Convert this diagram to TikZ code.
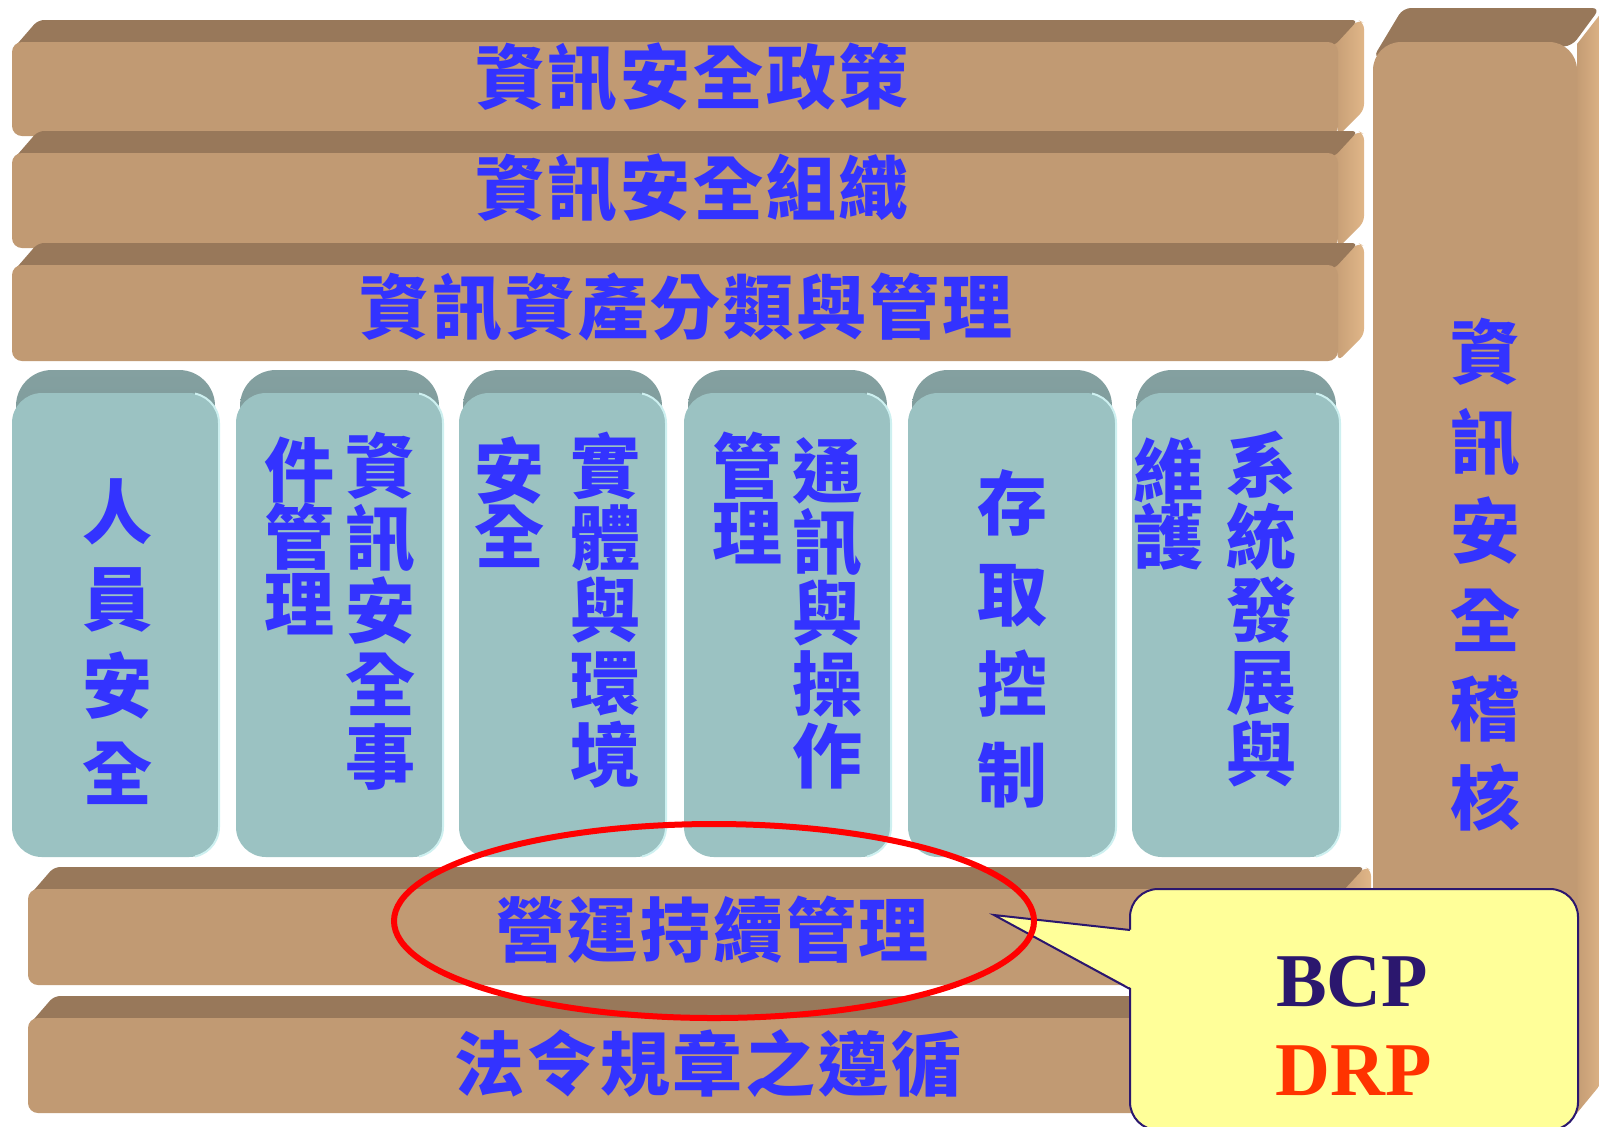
\documentclass[tikz,border=0pt]{standalone}
\usepackage{fontspec}
\newfontfamily\cjk{Noto Sans CJK TC}
\newfontfamily\cjkh[LetterSpace=4]{Noto Sans CJK TC}
\newfontfamily\tnr{Liberation Serif}
\definecolor{barfront}{RGB}{193,154,115}
\definecolor{bartop}{RGB}{152,120,90}
\definecolor{barside}{RGB}{224,182,136}
\definecolor{barsideA}{RGB}{196,156,116}
\definecolor{pilfront}{RGB}{155,194,194}
\definecolor{piltop}{RGB}{118,148,148}
\definecolor{piltopA}{RGB}{132,160,160}
\definecolor{pilhi}{RGB}{205,240,240}
\definecolor{txtblue}{RGB}{51,51,255}
\definecolor{callfill}{RGB}{255,255,153}
\definecolor{callline}{RGB}{43,23,110}
\definecolor{drpred}{RGB}{255,51,0}
\newcommand{\slab}[4]{%
  \shade[left color=barsideA, right color=barside, rounded corners=3pt]
    (#2-6,#3+2) -- (#2+20,#3-22) -- (#2+26,#3-19) -- (#2+26,#4-26) -- (#2,#4) -- cycle;
  \fill[bartop, rounded corners=3pt]
    (#1,#3+8) -- (#1+26,#3-22) -- (#2+20,#3-22) -- (#2-4,#3+4) -- cycle;
  \fill[barfront, rounded corners=5pt] (#1,#3) rectangle (#2,#4);
}
\newcommand{\pillar}[2]{%
  \shade[top color=piltopA, bottom color=piltop, rounded corners=18pt] (#1+4,370) rectangle (#2-4,520);
  \fill[pilfront, rounded corners=15pt] (#1,393) rectangle (#2,857);
  \begin{scope}
    \clip (#2-24,380) rectangle (#2+6,870);
    \draw[pilhi, line width=1pt, rounded corners=15pt] (#1,393) rectangle (#2,857);
  \end{scope}
}
\begin{document}
\begin{tikzpicture}[x=0.5pt,y=-0.5pt,
  htext/.style={font=\cjkh\bfseries\fontsize{35}{40}\selectfont, text=txtblue, inner sep=0pt},
  vtext/.style={font={\cjk\bfseries\fontsize{35}{#1}\selectfont\lineskiplimit=-50pt\relax}, text=txtblue, inner sep=0pt, align=center},
  ltext/.style={font=\tnr\bfseries\fontsize{38}{40}\selectfont, inner sep=0pt},
  calloutbox/.style={fill=callfill, draw=callline, line width=1pt, rounded corners=14pt},
]
\useasboundingbox (0,0) rectangle (1599,1126);
\fill[white] (0,0) rectangle (1599,1126);

% top slabs
\slab{12}{1338}{42}{136}
\slab{12}{1338}{153}{248}
\slab{12}{1338}{265}{361}

% pillars
\pillar{12}{219}
\pillar{236}{443}
\pillar{459}{666}
\pillar{684}{891}
\pillar{908}{1116}
\pillar{1132}{1340}

% bottom slabs
\slab{28}{1345}{889}{985}
\slab{28}{1345}{1018}{1113}

% right column
\shade[left color=barsideA, right color=barside]
  (1577,44) -- (1605,8) -- (1605,1079) -- (1577,1113) -- cycle;
\fill[bartop, rounded corners=4pt]
  (1373,58) -- (1403,8) -- (1600,8) -- (1572,46) -- cycle;
\fill[barfront, rounded corners=14pt] (1373,42) rectangle (1577,1113);

% texts on slabs
\node[htext] (policy) at (692,77) {資訊安全政策};
\node[htext] (org) at (692,188) {資訊安全組織};
\node[htext] (asset) at (686,307) {資訊資產分類與管理};
\node[htext] (bcm) at (712,930) {營運持續管理};
\node[htext] (law) at (708,1063) {法令規章之遵循};

% pillar texts
\node[vtext=43.5] (hr) at (117,642) {人\\員\\安\\全};
\node[vtext=36.4] (incA) at (380,611) {資\\訊\\安\\全\\事};
\node[vtext=33.7] (incB) at (299,536) {件\\管\\理};
\node[vtext=36.2] (phyA) at (605,610) {實\\體\\與\\環\\境};
\node[vtext=32.5] (phyB) at (509,502) {安\\全};
\node[vtext=35.6] (comA) at (827,613) {通\\訊\\與\\操\\作};
\node[vtext=33.5] (comB) at (747,498) {管\\理};
\node[vtext=45.3] (acc) at (1012,639) {存\\取\\控\\制};
\node[vtext=36.1] (sysA) at (1261,609) {系\\統\\發\\展\\與};
\node[vtext=33] (sysB) at (1168,504) {維\\護};
\node[vtext=44.6] (audit) at (1485,575) {資\\訊\\安\\全\\稽\\核};

% callout
\path[calloutbox] (1130,889) rectangle (1578,1130);
\fill[callfill] (1133,930) -- (994,915) -- (1133,989) -- cycle;
\draw[callline, line width=1pt, line join=miter] (1130,930) -- (994,915) -- (1130,989);
\node[ltext, text=callline] (bcp) at (1352,982) {BCP};
\node[ltext, text=drpred] (drp) at (1354,1071) {DRP};

% red ellipse
\draw[red, line width=3pt] (714,921) ellipse [x radius=320, y radius=97];
\end{tikzpicture}
\end{document}
